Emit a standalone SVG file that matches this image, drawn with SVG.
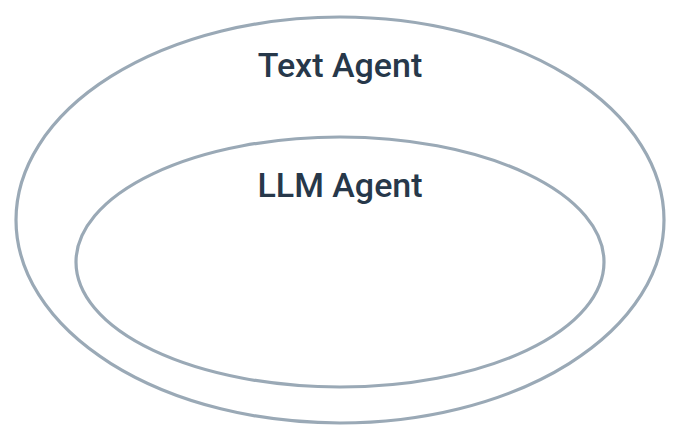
<svg xmlns="http://www.w3.org/2000/svg" width="680" height="440" viewBox="0 0 680 440">
<style>
.set{fill:none;stroke:#9aa9b6;stroke-width:3.2}
.lbl{font-family:Roboto,"Open Sans","DejaVu Sans",sans-serif;font-weight:500;font-size:34px;fill:#27384a;text-anchor:middle}
</style>
<rect width="680" height="440" fill="#ffffff"/>
<g id="text-agent">
<ellipse class="set" cx="340" cy="220" rx="324" ry="203"/>
<text class="lbl" x="340" y="77">Text Agent</text>
</g>
<g id="llm-agent">
<ellipse class="set" cx="340" cy="262" rx="264" ry="125"/>
<text class="lbl" x="340" y="197">LLM Agent</text>
</g>
<g id="connectors"/>
</svg>
